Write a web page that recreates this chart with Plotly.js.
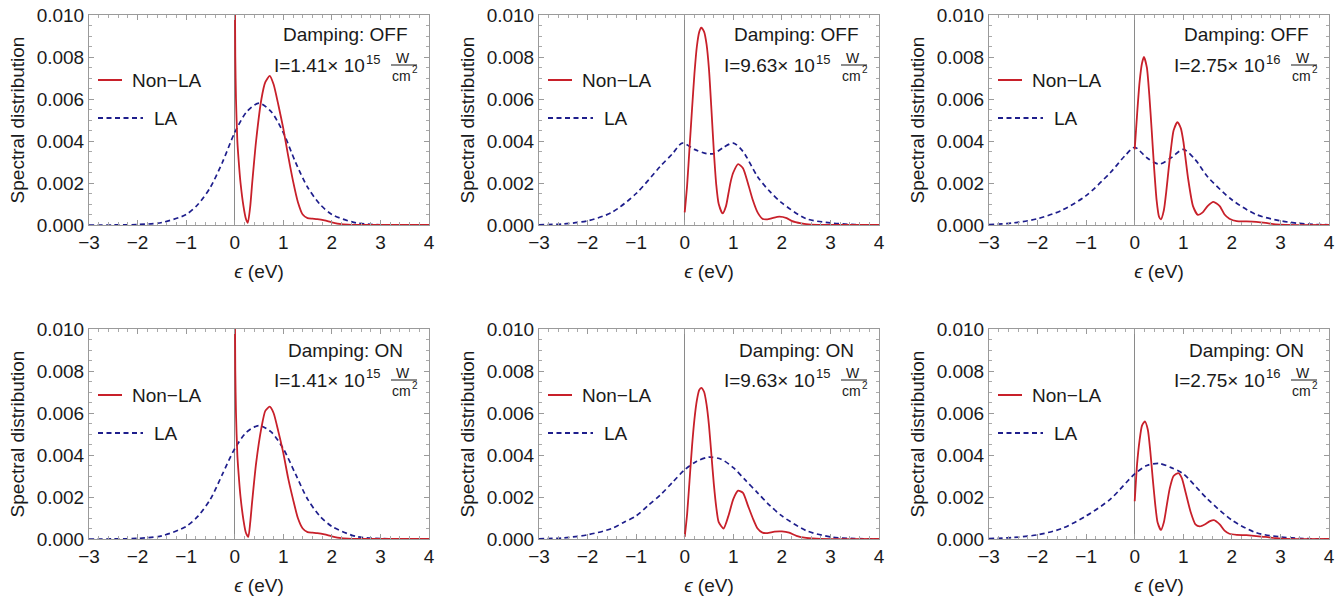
<!DOCTYPE html>
<html>
<head>
<meta charset="utf-8">
<script src="https://cdn.plot.ly/plotly-3.0.1.min.js"></script>
<style>html,body{margin:0;padding:0;background:#fff;}#chart{width:1344px;height:599px;}</style>
</head>
<body>
<div id="chart"></div>
<script>
// ---------- Data ----------
const intensityMantissa = ["1.41", "9.63", "2.75"];
const intensityExponent = ["15", "15", "16"];
const dampingLabels = ["OFF", "ON"];
const seriesNames = ["Non−LA", "LA"];
const xTickLabels = [-3, -2, -1, 0, 1, 2, 3, 4];

// Panel: Damping OFF, I = 1.41e15
const offLowRedX = [0, 0.012, 0.026, 0.054, 0.09, 0.12, 0.18, 0.23, 0.27, 0.32, 0.36, 0.44, 0.55, 0.63, 0.72, 0.8, 0.9, 1.0, 1.1, 1.2, 1.3, 1.4, 1.5, 1.6, 1.7, 1.85, 2.0, 2.2, 2.4, 2.7, 3.0, 4.0];
const offLowRedY = [0.0125, 0.008, 0.006, 0.004, 0.0028, 0.002, 0.0009, 0.0003, 0.0001, 0.0009, 0.002, 0.004, 0.006, 0.0068, 0.0071, 0.0067, 0.0057, 0.0046, 0.0033, 0.0021, 0.0011, 0.0005, 0.00033, 0.0003, 0.00028, 0.00022, 0.00013, 0.00004, 0.00001, 0, 0, 0];
const offLowBlueX = [-3, -2.5, -2, -1.5, -1, -0.75, -0.5, -0.25, 0, 0.25, 0.5, 0.75, 1.0, 1.25, 1.5, 1.75, 2.0, 2.5, 3.0, 3.5, 4.0];
const offLowBlueY = [0, 0.000002, 0.00002, 0.00012, 0.0005, 0.001, 0.0018, 0.003, 0.0044, 0.0054, 0.0058, 0.0054, 0.0044, 0.003, 0.0018, 0.001, 0.0005, 0.0001, 0.00001, 0, 0];

// Panel: Damping OFF, I = 9.63e15
const offMidRedX = [0, 0.05, 0.1, 0.15, 0.2, 0.25, 0.3, 0.34, 0.4, 0.45, 0.5, 0.55, 0.6, 0.65, 0.7, 0.78, 0.85, 0.9, 0.95, 1.0, 1.1, 1.2, 1.3, 1.4, 1.5, 1.6, 1.7, 1.8, 1.95, 2.1, 2.2, 2.4, 2.6, 3.0, 4.0];
const offMidRedY = [0.0006, 0.0019, 0.0037, 0.0055, 0.0072, 0.0085, 0.0092, 0.0094, 0.0092, 0.0086, 0.0074, 0.0055, 0.0035, 0.0019, 0.001, 0.00055, 0.0009, 0.0015, 0.0021, 0.0025, 0.0029, 0.0027, 0.002, 0.0012, 0.0006, 0.0003, 0.00027, 0.00033, 0.0004, 0.00033, 0.0002, 0.00008, 0.00002, 0, 0];
const offMidBlueX = [-3, -2.5, -2, -1.5, -1, -0.5, -0.25, -0.05, 0.2, 0.45, 0.6, 0.8, 1.0, 1.2, 1.5, 1.75, 2.0, 2.5, 3.0, 3.5, 4.0];
const offMidBlueY = [0.00001, 0.00005, 0.0002, 0.0006, 0.0015, 0.0028, 0.0034, 0.0039, 0.0036, 0.0034, 0.0034, 0.0037, 0.0039, 0.0035, 0.0023, 0.0016, 0.00105, 0.0003, 0.0001, 0.00002, 0];

// Panel: Damping OFF, I = 2.75e16
const offHighRedX = [0, 0.05, 0.1, 0.15, 0.19, 0.25, 0.3, 0.35, 0.4, 0.45, 0.5, 0.54, 0.6, 0.65, 0.7, 0.75, 0.8, 0.88, 0.95, 1.0, 1.05, 1.1, 1.2, 1.3, 1.4, 1.5, 1.62, 1.75, 1.85, 1.95, 2.1, 2.3, 2.5, 2.7, 2.9, 3.1, 4.0];
const offHighRedY = [0.0036, 0.0053, 0.0068, 0.0077, 0.008, 0.0075, 0.0062, 0.0045, 0.0027, 0.0012, 0.0004, 0.00027, 0.0007, 0.0016, 0.0027, 0.0037, 0.0045, 0.0049, 0.0046, 0.004, 0.0031, 0.0022, 0.0009, 0.00048, 0.0006, 0.0009, 0.0011, 0.0009, 0.0005, 0.0003, 0.00018, 0.00017, 0.00015, 0.0001, 0.00003, 0, 0];
const offHighBlueX = [-3, -2.5, -2, -1.5, -1, -0.5, -0.2, 0, 0.25, 0.5, 0.75, 1.0, 1.25, 1.5, 2.0, 2.5, 3.0, 3.5, 4.0];
const offHighBlueY = [0.00002, 0.0001, 0.0003, 0.0007, 0.0014, 0.0025, 0.0033, 0.0037, 0.0032, 0.0029, 0.0032, 0.0036, 0.0031, 0.0023, 0.0012, 0.0005, 0.0002, 0.00005, 0.00001];

// Panel: Damping ON, I = 1.41e15
const onLowRedX = [0, 0.012, 0.026, 0.054, 0.09, 0.12, 0.18, 0.23, 0.28, 0.32, 0.36, 0.44, 0.55, 0.63, 0.72, 0.8, 0.9, 1.0, 1.1, 1.2, 1.3, 1.4, 1.5, 1.6, 1.7, 1.85, 2.0, 2.2, 2.4, 2.7, 3.0, 4.0];
const onLowRedY = [0.0125, 0.008, 0.006, 0.004, 0.0028, 0.002, 0.0009, 0.0003, 0.0001, 0.0008, 0.0018, 0.0036, 0.0053, 0.0061, 0.0063, 0.006, 0.0051, 0.0041, 0.0029, 0.0019, 0.001, 0.0005, 0.00033, 0.0003, 0.00028, 0.00022, 0.00013, 0.00004, 0.00001, 0, 0, 0];
const onLowBlueX = [-3, -2.5, -2, -1.5, -1, -0.75, -0.5, -0.25, 0, 0.25, 0.5, 0.75, 1.0, 1.25, 1.5, 1.75, 2.0, 2.5, 3.0, 3.5, 4.0];
const onLowBlueY = [0, 0.000003, 0.00003, 0.00015, 0.0006, 0.0011, 0.0019, 0.0031, 0.0043, 0.0051, 0.0054, 0.0051, 0.0043, 0.0031, 0.0019, 0.0011, 0.0006, 0.00012, 0.00002, 0, 0];

// Panel: Damping ON, I = 9.63e15
const onMidRedX = [0, 0.05, 0.1, 0.15, 0.2, 0.25, 0.3, 0.34, 0.4, 0.45, 0.5, 0.55, 0.6, 0.65, 0.7, 0.8, 0.9, 1.0, 1.1, 1.2, 1.3, 1.4, 1.5, 1.6, 1.7, 1.85, 2.0, 2.15, 2.3, 2.5, 2.8, 4.0];
const onMidRedY = [0.0001, 0.0012, 0.0028, 0.0044, 0.0057, 0.0066, 0.0071, 0.0072, 0.007, 0.0064, 0.0054, 0.004, 0.0026, 0.0015, 0.0008, 0.0005, 0.0011, 0.0019, 0.0023, 0.0022, 0.0016, 0.001, 0.0005, 0.0003, 0.00028, 0.00035, 0.00036, 0.0003, 0.00015, 0.00005, 0, 0];
const onMidBlueX = [-3, -2.5, -2, -1.5, -1.25, -1, -0.75, -0.5, -0.25, 0, 0.25, 0.5, 0.75, 1.0, 1.25, 1.5, 1.75, 2.0, 2.5, 3.0, 3.5, 4.0];
const onMidBlueY = [0.00001, 0.00005, 0.0002, 0.0005, 0.0008, 0.0011, 0.0016, 0.0021, 0.0027, 0.0033, 0.0037, 0.0039, 0.0038, 0.0034, 0.0028, 0.0022, 0.0016, 0.0011, 0.0004, 0.0001, 0.00002, 0];

// Panel: Damping ON, I = 2.75e16
const onHighRedX = [0, 0.05, 0.1, 0.15, 0.21, 0.27, 0.32, 0.37, 0.42, 0.47, 0.54, 0.6, 0.66, 0.72, 0.8, 0.9, 0.97, 1.05, 1.15, 1.25, 1.34, 1.45, 1.55, 1.63, 1.75, 1.85, 1.95, 2.1, 2.3, 2.5, 2.7, 2.9, 3.1, 4.0];
const onHighRedY = [0.0018, 0.0036, 0.0047, 0.0054, 0.0056, 0.0052, 0.0042, 0.0029, 0.0017, 0.0008, 0.00043, 0.0008, 0.0016, 0.0024, 0.003, 0.00314, 0.0029, 0.0022, 0.0013, 0.0007, 0.0006, 0.0007, 0.00085, 0.0009, 0.0007, 0.0004, 0.00025, 0.0002, 0.00018, 0.00014, 0.0001, 0.00004, 0, 0];
const onHighBlueX = [-3, -2.5, -2, -1.5, -1, -0.5, 0, 0.25, 0.5, 0.75, 1.0, 1.5, 2.0, 2.5, 3.0, 3.5, 4.0];
const onHighBlueY = [0.00002, 0.00007, 0.0002, 0.0005, 0.0011, 0.0019, 0.0031, 0.0035, 0.0036, 0.0034, 0.0031, 0.0019, 0.0009, 0.0003, 0.0001, 0.00002, 0];

// ---------- Layout helpers ----------
const W = 1344, H = 599;
const colLeft = [89, 539, 989];
const rowTop = [15, 329];
const plotW = 340, plotH = 210;
const RED = '#c8202a', BLUE = '#1e1e8c', FRAME = '#9a9a9a';
const FONT = 'Liberation Sans, Arial, Helvetica, sans-serif';
const TXT = '#1a1a1a';

const panels = [
  {row: 0, col: 0, rx: offLowRedX, ry: offLowRedY, bx: offLowBlueX, by: offLowBlueY},
  {row: 0, col: 1, rx: offMidRedX, ry: offMidRedY, bx: offMidBlueX, by: offMidBlueY},
  {row: 0, col: 2, rx: offHighRedX, ry: offHighRedY, bx: offHighBlueX, by: offHighBlueY},
  {row: 1, col: 0, rx: onLowRedX, ry: onLowRedY, bx: onLowBlueX, by: onLowBlueY},
  {row: 1, col: 1, rx: onMidRedX, ry: onMidRedY, bx: onMidBlueX, by: onMidBlueY},
  {row: 1, col: 2, rx: onHighRedX, ry: onHighRedY, bx: onHighBlueX, by: onHighBlueY}
];

const px = x => x / W;
const py = y => 1 - y / H;

const data = [];
const layout = {
  width: W, height: H,
  margin: {l: 0, r: 0, t: 0, b: 0},
  paper_bgcolor: '#ffffff', plot_bgcolor: '#ffffff',
  showlegend: false, hovermode: false,
  font: {family: FONT, size: 19, color: TXT},
  annotations: [], shapes: []
};

function note(x, y, text, size, xanchor) {
  layout.annotations.push({xref: 'paper', yref: 'paper', x: px(x), y: py(y), text: text,
    showarrow: false, xanchor: xanchor, yanchor: 'middle', font: {family: FONT, size: size, color: TXT}});
}

panels.forEach((p, i) => {
  const n = i === 0 ? '' : String(i + 1);
  const xa = 'x' + n, ya = 'y' + n;
  const L = colLeft[p.col], T = rowTop[p.row];
  const off = p.row === 1 ? 1 : 0;

  data.push({x: p.bx, y: p.by, xaxis: xa, yaxis: ya, type: 'scatter', mode: 'lines', name: seriesNames[1],
    line: {color: BLUE, width: 1.7, dash: '5px,3.5px', shape: 'spline', smoothing: 0.8}});
  data.push({x: p.rx, y: p.ry, xaxis: xa, yaxis: ya, type: 'scatter', mode: 'lines', name: seriesNames[0],
    line: {color: RED, width: 1.8, shape: 'spline', smoothing: 0.6}});

  const common = {
    ticks: 'inside', ticklen: 5, tickwidth: 1, tickcolor: FRAME,
    showline: true, linecolor: FRAME, linewidth: 1, mirror: 'allticks',
    showgrid: false, fixedrange: true,
    tickfont: {family: FONT, size: 19, color: TXT}
  };
  layout['xaxis' + n] = Object.assign({}, common, {
    domain: [px(L), px(L + plotW)], anchor: ya, range: [-3, 4],
    tickmode: 'array', tickvals: xTickLabels, ticktext: xTickLabels.map(v => v < 0 ? '−' + Math.abs(v) : String(v)),
    zeroline: true, zerolinecolor: '#8a8a8a', zerolinewidth: 1,
    minor: {tickmode: 'linear', tick0: 0, dtick: 0.2, ticks: 'inside', ticklen: 3, tickcolor: '#aaaaaa', showgrid: false},
    title: {text: '<i>ϵ</i> (eV)', font: {family: FONT, size: 19, color: TXT}, standoff: 12}
  });
  layout['yaxis' + n] = Object.assign({}, common, {
    domain: [py(T + plotH), py(T)], anchor: xa, range: [0, 0.010],
    tickmode: 'linear', tick0: 0, dtick: 0.002, tickformat: '.3f', zeroline: false,
    minor: {tickmode: 'linear', tick0: 0, dtick: 0.0005, ticks: 'inside', ticklen: 3, tickcolor: '#aaaaaa', showgrid: false},
    title: {text: 'Spectral distribution', font: {family: FONT, size: 19, color: TXT}, standoff: 7}
  });

  // Damping state and intensity label
  note(L + 257, T + 20 + off, 'Damping: ' + dampingLabels[p.row], 19, 'center');
  note(L + 278, T + 50 + off, 'I=' + intensityMantissa[p.col] + '× 10', 19, 'right');
  note(L + 275, T + 44 + off, intensityExponent[p.col], 13, 'left');
  note(L + 314, T + 43 + off, 'W', 14, 'center');
  note(L + 301, T + 61 + off, 'cm', 14, 'left');
  note(L + 321, T + 55 + off, '2', 10, 'left');
  layout.shapes.push({type: 'line', xref: 'paper', yref: 'paper', x0: px(L + 302), x1: px(L + 328),
    y0: py(T + 50 + off), y1: py(T + 50 + off), line: {color: TXT, width: 1}});

  // Legend (sample lines + labels)
  layout.shapes.push({type: 'line', xref: 'paper', yref: 'paper', x0: px(L + 9), x1: px(L + 33),
    y0: py(T + 65 + off), y1: py(T + 65 + off), line: {color: RED, width: 2}});
  note(L + 41, T + 65 + off, seriesNames[0], 19, 'left');
  layout.shapes.push({type: 'line', xref: 'paper', yref: 'paper', x0: px(L + 9), x1: px(L + 54),
    y0: py(T + 103 + off), y1: py(T + 103 + off), line: {color: BLUE, width: 1.8, dash: '5px,3.5px'}});
  note(L + 63, T + 103 + off, seriesNames[1], 19, 'left');
});

Plotly.newPlot('chart', data, layout, {staticPlot: true, displayModeBar: false});
</script>
</body>
</html>
